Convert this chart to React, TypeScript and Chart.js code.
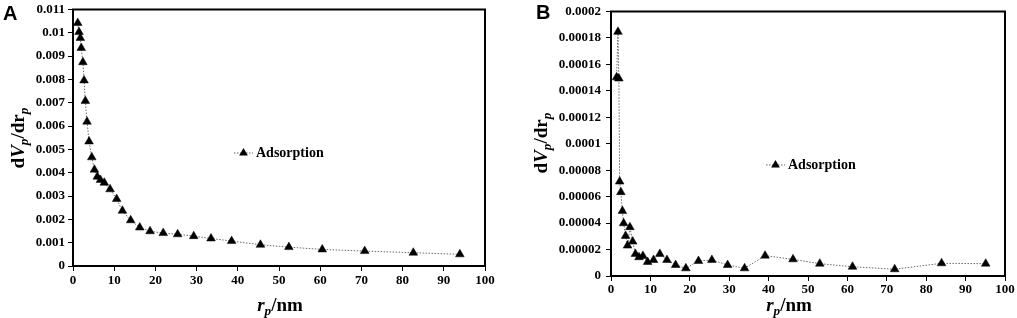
import React, { useEffect, useRef } from "react";
import { Chart, registerables } from "chart.js";

Chart.register(...registerables);

// ---- Data ----
const seriesLabel = "Adsorption";

const xA = [1.15, 1.46, 1.78, 2.0, 2.4, 2.68, 3.0, 3.4, 3.9, 4.56, 5.2, 5.9, 6.66, 7.6, 9.0, 10.6, 12.0, 14.0, 16.2, 18.7, 21.9, 25.4, 29.3, 33.5, 38.5, 45.5, 52.4, 60.5, 70.8, 82.6, 93.9];
const yA = [0.01042, 0.01003, 0.00978, 0.00935, 0.00874, 0.00796, 0.00708, 0.00619, 0.00534, 0.00466, 0.00413, 0.00383, 0.00369, 0.00357, 0.00329, 0.00287, 0.00237, 0.00196, 0.00165, 0.00149, 0.00141, 0.00136, 0.00128, 0.00118, 0.00107, 0.00091, 0.00081, 0.00071, 0.00064, 0.00057, 0.0005];

const xB = [1.42, 1.77, 2.0, 2.2, 2.5, 2.9, 3.2, 3.7, 4.2, 4.8, 5.5, 6.2, 7.1, 8.1, 9.3, 10.8, 12.4, 14.2, 16.4, 19.0, 22.2, 25.6, 29.6, 33.9, 39.1, 46.2, 53.0, 61.3, 72.0, 83.9, 95.1];
const yB = [0.0001502, 0.0001846, 0.0001493, 0.0000714, 0.0000634, 0.0000492, 0.0000399, 0.0000303, 0.000023, 0.0000369, 0.000026, 0.0000167, 0.0000142, 0.0000152, 0.0000106, 0.0000121, 0.0000167, 0.0000121, 0.0000083, 0.0000058, 0.0000114, 0.0000121, 0.0000083, 0.0000058, 0.0000154, 0.0000126, 0.0000093, 0.000007, 0.0000051, 0.0000096, 0.0000093];

const xTicks = [0, 10, 20, 30, 40, 50, 60, 70, 80, 90, 100];
const yTicksA = [0, 0.001, 0.002, 0.003, 0.004, 0.005, 0.006, 0.007, 0.008, 0.009, 0.01, 0.011];
const yTicksB = [0, 0.00002, 0.00004, 0.00006, 0.00008, 0.0001, 0.00012, 0.00014, 0.00016, 0.00018, 0.0002];

const SERIF = '"Liberation Serif", "Times New Roman", serif';
const MARKER_R = 5;

function fmt(v: number): string {
  return String(Number(v.toPrecision(6)));
}

function makeLegendPlugin(lx: number, ly: number) {
  return {
    id: "customLegend",
    afterDraw(chart: any) {
      const ctx = chart.ctx;
      ctx.save();
      ctx.strokeStyle = "#666";
      ctx.lineWidth = 1;
      ctx.setLineDash([1.5, 1.5]);
      ctx.beginPath();
      ctx.moveTo(lx, ly);
      ctx.lineTo(lx + 19, ly);
      ctx.stroke();
      ctx.setLineDash([]);
      const cx = lx + 9.5;
      const r = MARKER_R;
      ctx.fillStyle = "#000";
      ctx.beginPath();
      ctx.moveTo(cx, ly - r);
      ctx.lineTo(cx + r * 0.866, ly + r * 0.5);
      ctx.lineTo(cx - r * 0.866, ly + r * 0.5);
      ctx.closePath();
      ctx.fill();
      ctx.font = `bold 14px ${SERIF}`;
      ctx.textBaseline = "middle";
      ctx.textAlign = "left";
      ctx.fillText(chart.data.datasets[0].label, lx + 22, ly);
      ctx.restore();
    },
  };
}

const framePlugin = {
  id: "frame",
  afterDraw(chart: any) {
    const { left, right, top, bottom } = chart.chartArea;
    const ctx = chart.ctx;
    ctx.save();
    ctx.strokeStyle = "#000";
    ctx.lineWidth = 2;
    ctx.strokeRect(left, top, right - left, bottom - top);
    ctx.restore();
  },
};

function buildConfig(
  xs: number[],
  ys: number[],
  yTicks: number[],
  yWidth: number,
  xHeight: number,
  padding: any,
  yPad: number,
  xPad: number,
  legend: [number, number]
): any {
  const tickFont = { family: SERIF, size: 13, weight: "bold", lineHeight: 1 };
  return {
    type: "scatter",
    data: {
      datasets: [
        {
          label: seriesLabel,
          data: xs.map((x, i) => ({ x, y: ys[i] })),
          showLine: true,
          borderColor: "#6a6a6a",
          borderWidth: 1,
          borderDash: [1.5, 1.5],
          pointStyle: "triangle",
          pointRadius: MARKER_R,
          pointBackgroundColor: "#000",
          pointBorderColor: "#000",
          pointBorderWidth: 0.5,
        },
      ],
    },
    options: {
      animation: false,
      responsive: false,
      layout: { padding },
      plugins: { legend: { display: false }, tooltip: { enabled: false } },
      scales: {
        x: {
          type: "linear",
          min: xTicks[0],
          max: xTicks[xTicks.length - 1],
          afterBuildTicks: (s: any) => {
            s.ticks = xTicks.map((v) => ({ value: v }));
          },
          afterFit: (s: any) => {
            s.height = xHeight;
          },
          ticks: {
            callback: (v: number) => fmt(v),
            color: "#000",
            font: tickFont,
            padding: xPad,
            maxRotation: 0,
            autoSkip: false,
          },
          grid: { display: true, drawOnChartArea: false, drawTicks: true, tickLength: 5, color: "#000", lineWidth: 1 },
          border: { display: true, color: "#000", width: 2 },
        },
        y: {
          type: "linear",
          min: yTicks[0],
          max: yTicks[yTicks.length - 1],
          afterBuildTicks: (s: any) => {
            s.ticks = yTicks.map((v) => ({ value: v }));
          },
          afterFit: (s: any) => {
            s.width = yWidth;
          },
          ticks: {
            callback: (v: number) => fmt(v),
            color: "#000",
            font: tickFont,
            padding: yPad,
            autoSkip: false,
          },
          grid: { display: true, drawOnChartArea: false, drawTicks: true, tickLength: 5, color: "#000", lineWidth: 1 },
          border: { display: true, color: "#000", width: 2 },
        },
      },
    },
    plugins: [framePlugin, makeLegendPlugin(legend[0], legend[1])],
  };
}

const subStyle: React.CSSProperties = { fontSize: "0.7em", verticalAlign: "-0.35em", lineHeight: 0, fontStyle: "italic" };

function YTitle({ x, y }: { x: number; y: number }) {
  return (
    <div
      style={{
        position: "absolute",
        left: x,
        top: y,
        transform: "translate(-50%, -50%) rotate(-90deg)",
        whiteSpace: "nowrap",
        fontFamily: SERIF,
        fontWeight: "bold",
        fontSize: 19,
        lineHeight: 1,
      }}
    >
      d<i>V</i>
      <span style={subStyle}>p</span>/dr<span style={subStyle}>p</span>
    </div>
  );
}

function XTitle({ x, y }: { x: number; y: number }) {
  return (
    <div
      style={{
        position: "absolute",
        left: x,
        top: y,
        transform: "translate(-50%, -50%)",
        whiteSpace: "nowrap",
        fontFamily: SERIF,
        fontWeight: "bold",
        fontSize: 19,
        lineHeight: 1,
      }}
    >
      <i>r</i>
      <span style={subStyle}>p</span>/nm
    </div>
  );
}

function Letter({ x, y, t }: { x: number; y: number; t: string }) {
  return (
    <div
      style={{
        position: "absolute",
        left: x,
        top: y,
        fontFamily: '"Liberation Sans", Arial, sans-serif',
        fontWeight: "bold",
        fontSize: 20,
        lineHeight: 1,
      }}
    >
      {t}
    </div>
  );
}

export default function App() {
  const refA = useRef<HTMLCanvasElement>(null);
  const refB = useRef<HTMLCanvasElement>(null);

  useEffect(() => {
    const a = new Chart(
      refA.current as HTMLCanvasElement,
      buildConfig(xA, yA, yTicksA, 73, 52, { top: 8, right: 15, left: 0, bottom: 0 }, 3, 3, [234, 153])
    );
    const b = new Chart(
      refB.current as HTMLCanvasElement,
      buildConfig(xB, yB, yTicksB, 106, 42, { top: 11, right: 12, left: 0, bottom: 0 }, 5, 2, [261, 165])
    );
    return () => {
      a.destroy();
      b.destroy();
    };
  }, []);

  return (
    <div style={{ position: "absolute", left: 0, top: 0, width: 1017, height: 318, background: "#fff", overflow: "hidden" }}>
      <canvas ref={refA} width={500} height={318} style={{ position: "absolute", left: 0, top: 0, width: 500, height: 318 }} />
      <canvas ref={refB} width={512} height={318} style={{ position: "absolute", left: 505, top: 0, width: 512, height: 318 }} />
      <Letter x={3} y={3} t="A" />
      <Letter x={536} y={2} t="B" />
      <YTitle x={17} y={138} />
      <YTitle x={540} y={143} />
      <XTitle x={280} y={304} />
      <XTitle x={789} y={304} />
    </div>
  );
}
